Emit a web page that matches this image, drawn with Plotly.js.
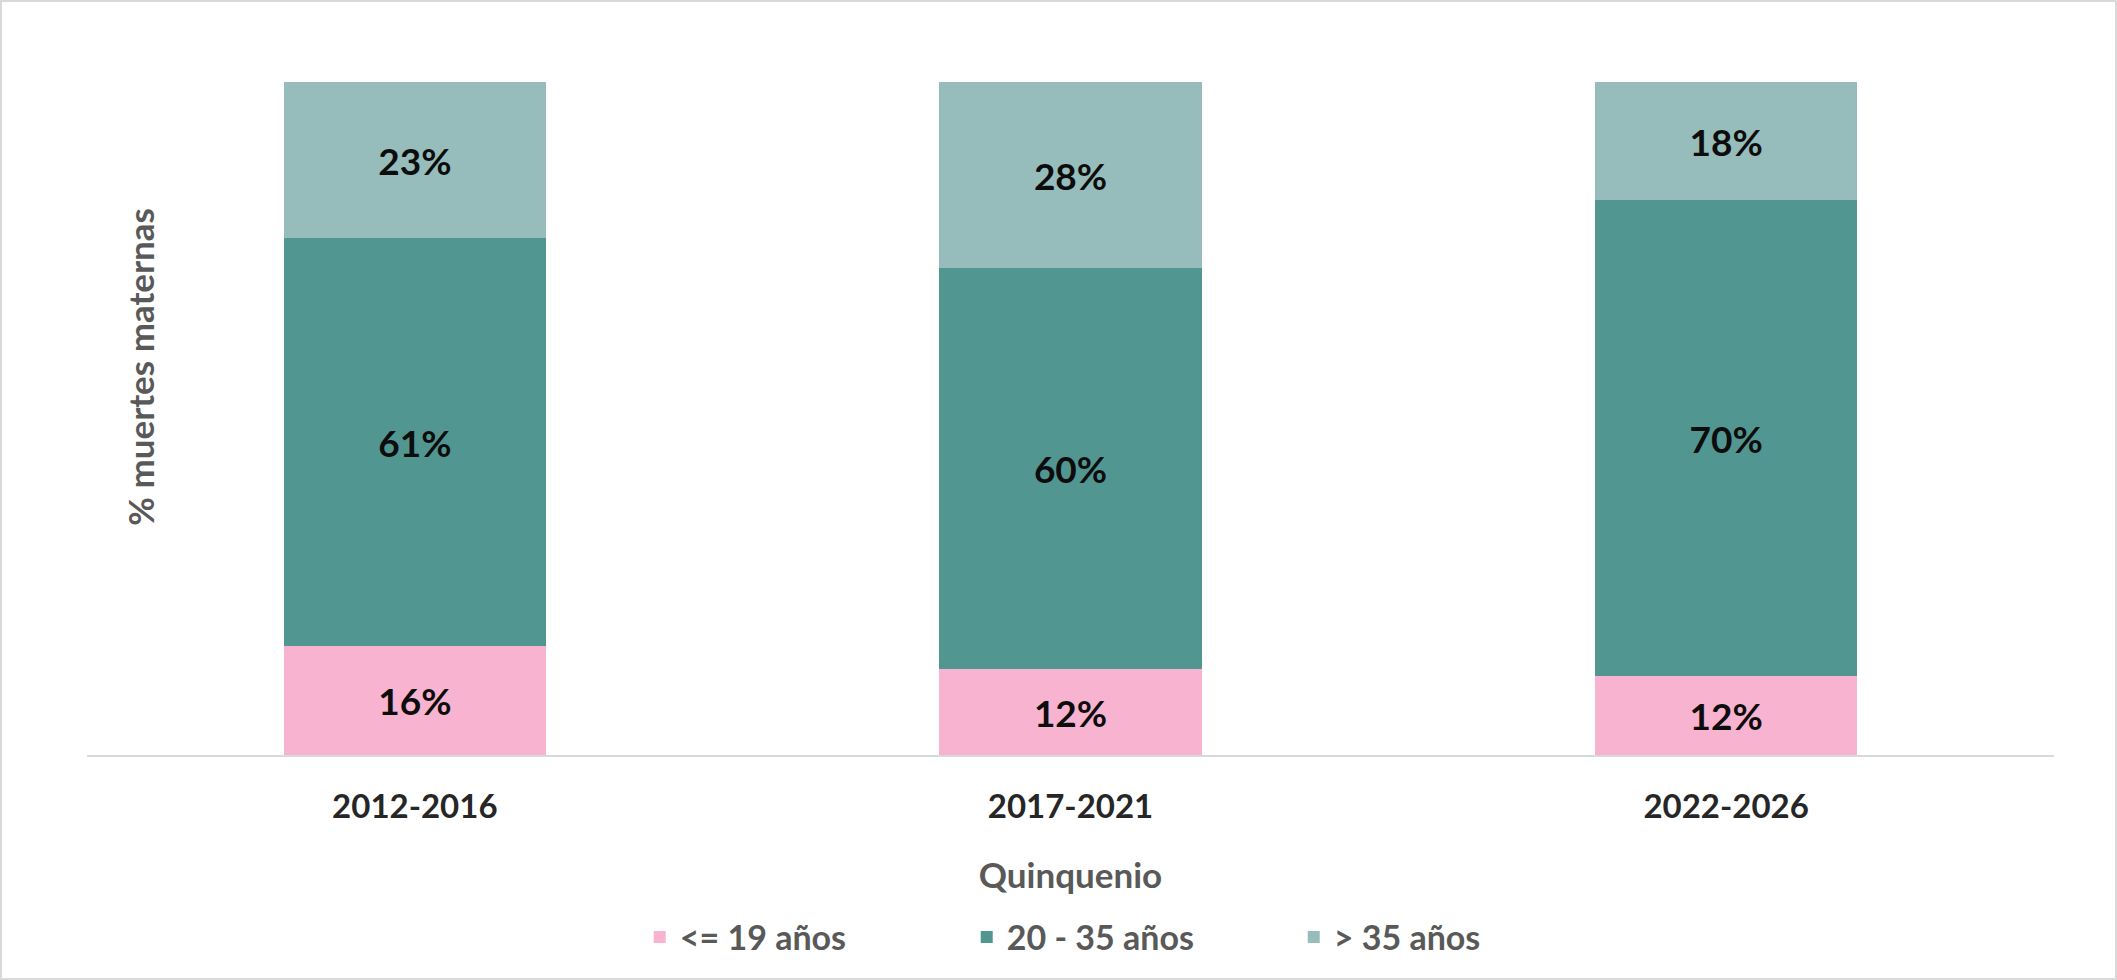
<!DOCTYPE html>
<html>
<head>
<meta charset="utf-8">
<script src="https://cdn.plot.ly/plotly-3.0.1.min.js"></script>
<style>
  html, body { margin: 0; padding: 0; background: #ffffff; }
  #wrap { position: relative; width: 2117px; height: 980px; }
  #chart { width: 2117px; height: 980px; }
  #frame { position: absolute; left: 0; top: 0; width: 2117px; height: 980px; box-sizing: border-box; border: 2px solid #d9d9d9; pointer-events: none; }
</style>
</head>
<body>
<div id="wrap">
  <div id="chart"></div>
  <div id="frame"></div>
</div>
<script>
// Categories (quinquenios)
const categories = ['2012-2016', '2017-2021', '2022-2026'];

// Series: share of maternal deaths by age group (%)
const seriesNames = ['<= 19 años', '20 - 35 años', '> 35 años'];
const menores19 = [16.25, 12.74, 11.7];
const de20a35 = [60.5, 59.56, 70.7];
const mayores35 = [23.25, 27.7, 17.6];

// Printed data labels, as shown in the chart
const labelsMenores19 = ['16%', '12%', '12%'];
const labels20a35 = ['61%', '60%', '70%'];
const labelsMayores35 = ['23%', '28%', '18%'];

const colors = ['#F8B3D0', '#529692', '#96BDBB'];
const FONT = 'Lato, "Open Sans", "Liberation Sans", sans-serif';

function barTrace(name, values, labels, color) {
  return {
    type: 'bar',
    name: name,
    x: categories,
    y: values,
    text: labels,
    texttemplate: '%{text}',
    textposition: 'inside',
    insidetextanchor: 'middle',
    textangle: 0,
    constraintext: 'none',
    insidetextfont: { family: FONT, size: 37, color: '#0d0d0d', weight: 'bold' },
    marker: { color: color, line: { width: 0 } },
    hoverinfo: 'skip'
  };
}

const data = [
  barTrace(seriesNames[0], menores19, labelsMenores19, colors[0]),
  barTrace(seriesNames[1], de20a35, labels20a35, colors[1]),
  barTrace(seriesNames[2], mayores35, labelsMayores35, colors[2])
];

const layout = {
  width: 2117,
  height: 980,
  margin: { l: 87, r: 63, t: 82, b: 225, pad: 0 },
  paper_bgcolor: '#ffffff',
  plot_bgcolor: '#ffffff',
  barmode: 'stack',
  bargap: 0.6,
  font: { family: FONT, color: '#595959' },
  showlegend: true,
  legend: {
    orientation: 'h',
    x: 0.281,
    xanchor: 'left',
    y: -0.271,
    yanchor: 'middle',
    traceorder: 'normal',
    entrywidth: 282,
    entrywidthmode: 'pixels',
    font: { family: FONT, size: 34, color: '#595959', weight: 'bold' },
    bgcolor: 'rgba(0,0,0,0)'
  },
  xaxis: {
    type: 'category',
    showline: true,
    linecolor: '#d9d9d9',
    linewidth: 2,
    showgrid: false,
    zeroline: false,
    ticks: '',
    ticklabelstandoff: 21,
    tickfont: { family: FONT, size: 33, color: '#262626', weight: 'bold' },
    title: {
      text: 'Quinquenio',
      font: { family: FONT, size: 35, color: '#595959', weight: 'bold' },
      standoff: 40
    },
    fixedrange: true
  },
  yaxis: {
    range: [0, 100],
    visible: false,
    showgrid: false,
    zeroline: false,
    fixedrange: true
  },
  annotations: [
    {
      text: '% muertes maternas',
      xref: 'paper', yref: 'paper',
      x: 0.027, y: 0.577,
      xanchor: 'center', yanchor: 'middle',
      textangle: -90,
      showarrow: false,
      font: { family: FONT, size: 35, color: '#595959', weight: 'bold' }
    }
  ]
};

Plotly.newPlot('chart', data, layout, { displayModeBar: false, staticPlot: true });
</script>
</body>
</html>
